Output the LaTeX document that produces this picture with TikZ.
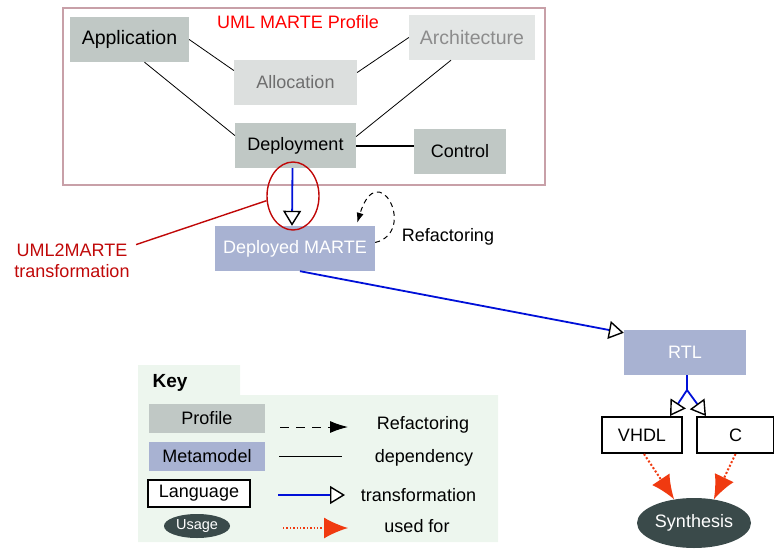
\documentclass[tikz,border=0pt]{standalone}
\usepackage{fontspec}
\setmainfont{Liberation Sans}
\usetikzlibrary{shapes,arrows.meta,calc}

\definecolor{profgray}{HTML}{C0C8C5}
\definecolor{lightgray}{HTML}{DCDFDE}
\definecolor{palegray}{HTML}{E3E6E5}
\definecolor{metablue}{HTML}{A8B2D2}
\definecolor{usagedark}{HTML}{3A4A4A}
\definecolor{framerose}{HTML}{C8A0A8}
\definecolor{transblue}{HTML}{0010D8}
\definecolor{usedred}{HTML}{F03A10}
\definecolor{darkred}{HTML}{C00808}
\definecolor{keygreen}{HTML}{EDF6EE}

\begin{document}
\begin{tikzpicture}[
    x=1pt, y=-1pt,
    font=\fontsize{18}{21}\selectfont,
    box/.style={rectangle, minimum height=45pt, inner sep=0pt, align=center},
    profile/.style={box, fill=profgray},
    metamodel/.style={box, fill=metablue, text=white},
    language/.style={rectangle, draw, line width=2pt, fill=white, minimum height=36pt, inner sep=0pt},
    usage/.style={ellipse, fill=usagedark, text=white, inner sep=0pt},
    dependency/.style={line width=0.8pt},
    trans/.style={line width=1.8pt, transblue, -{Triangle[length=15pt, width=18pt, color=black, fill=white, line width=1.4pt]}},
    refactor/.style={dashed, dash pattern=on 5pt off 4pt, line width=1pt, -{Latex[length=10pt, width=7pt]}},
    usedfor/.style={dotted, line width=2pt, usedred, -{Latex[length=24pt, width=21pt]}}
]
\useasboundingbox (0,0) rectangle (774,549);

% UML MARTE profile
\draw[framerose, line width=1.6pt] (63,8) rectangle (545,185);
\node[red] (title) at (298,22) {UML MARTE Profile};

\node[profile, minimum width=119pt, font=\fontsize{19.5}{22}\selectfont] (app) at (129.5,39.5) {Application};
\node[box, fill=lightgray, text=black!57, minimum width=123pt] (alloc) at (295.5,82.5) {Allocation};
\node[box, fill=palegray, text=black!45, minimum width=126pt, font=\fontsize{19.5}{22}\selectfont] (arch) at (472,37.5) {Architecture};
\node[profile, minimum width=121pt] (dep) at (295.5,145.5) {Deployment};
\node[profile, minimum width=92pt] (ctrl) at (460,151.5) {Control};

\draw[dependency] (app.east) -- ($(alloc.west)+(0,-12)$);
\draw[dependency] ($(alloc.east)+(0,-10)$) -- (arch.west);
\draw[dependency] ($(app.south)+(15,0)$) -- ($(dep.west)+(0,-10)$);
\draw[dependency] ($(arch.south)+(-21,0)$) -- ($(dep.east)+(0,-9)$);
\draw[line width=2pt] (dep.east) -- (dep.east -| ctrl.west);

% Metamodels
\node[metamodel, minimum width=160pt] (dm) at (295,248.5) {Deployed MARTE};
\node[metamodel, minimum width=122pt] (rtl) at (685,352.5) {RTL};

% UML2MARTE
\node[ellipse, draw=darkred, line width=1.4pt, minimum width=52pt, minimum height=68pt] (circ) at (293,196) {};
\draw[trans] ($(dep.south)+(-3,0)$) -- ($(dm.north)+(-3,0)$);
\node[darkred, align=center] (u2m) at (72,261) {UML2MARTE\\transformation};
\draw[darkred, line width=1.4pt] ($(u2m.north east)+(3,4)$) -- (circ.190);

% Refactoring
\draw[refactor] ($(dm.east)+(0,-6)$) .. controls (418,232) and (378,155) .. ($(dm.north east)+(-18,-3)$);
\node (refl) at (448,237) {Refactoring};

\draw[trans] ($(dm.south)+(5,0)$) -- ($(rtl.north west)+(0,3)$);

% Languages
\node[language, minimum width=80pt] (vhdl) at (642,435) {VHDL};
\node[language, minimum width=77pt] (c) at (735.5,435) {C};
\coordinate (split) at (687,390);
\draw[line width=1.8pt, transblue] (rtl.south -| split) -- (split);
\draw[trans] (split) -- ($(vhdl.north east)+(-13,0)$);
\draw[trans] (split) -- ($(c.north west)+(10,0)$);

% Usage
\node[usage, minimum width=114pt, minimum height=50pt] (synth) at (694,523) {Synthesis};
\draw[usedfor] ($(vhdl.south)+(2,0)$) -- (synth.130);
\draw[usedfor] (c.south) -- (synth.50);

% Key
\fill[keygreen] (138,365) -- (240,365) -- (240,395) -- (498,395) -- (498,542) -- (138,542) -- cycle;
\node[font=\fontsize{19}{22}\selectfont\bfseries] (key) at (170,383) {Key};

\node[box, fill=profgray, minimum width=116pt, minimum height=29pt] (kprof) at (207,418.5) {Profile};
\node[box, fill=metablue, minimum width=116pt, minimum height=29pt] (kmeta) at (207,456.5) {Metamodel};
\node[language, minimum width=102pt, minimum height=27pt] (klang) at (199,493.5) {Language};
\node[usage, minimum width=66pt, minimum height=24pt, font=\fontsize{14.5}{17}\selectfont] (kuse) at (197,526) {Usage};

\coordinate (ka1) at (280,427); \coordinate (kb1) at (348,427);
\coordinate (ka2) at (279,456); \coordinate (kb2) at (342,456);
\coordinate (ka3) at (278,495); \coordinate (kb3) at (345,495);
\coordinate (ka4) at (283,528); \coordinate (kb4) at (348,528);
\draw[refactor, dash pattern=on 9pt off 7pt, -{Latex[length=18pt, width=12pt]}] (ka1) -- (kb1);
\draw[dependency] (ka2) -- (kb2);
\draw[trans, line width=1.4pt] (ka3) -- (kb3);
\draw[usedfor, line width=1.4pt] (ka4) -- (kb4);

\node (lref) at (423,425) {Refactoring};
\node (ldep) at (424,458) {dependency};
\node (ltrans) at (418.5,495) {transformation};
\node (luse) at (417,526) {used for};

\end{tikzpicture}
\end{document}
